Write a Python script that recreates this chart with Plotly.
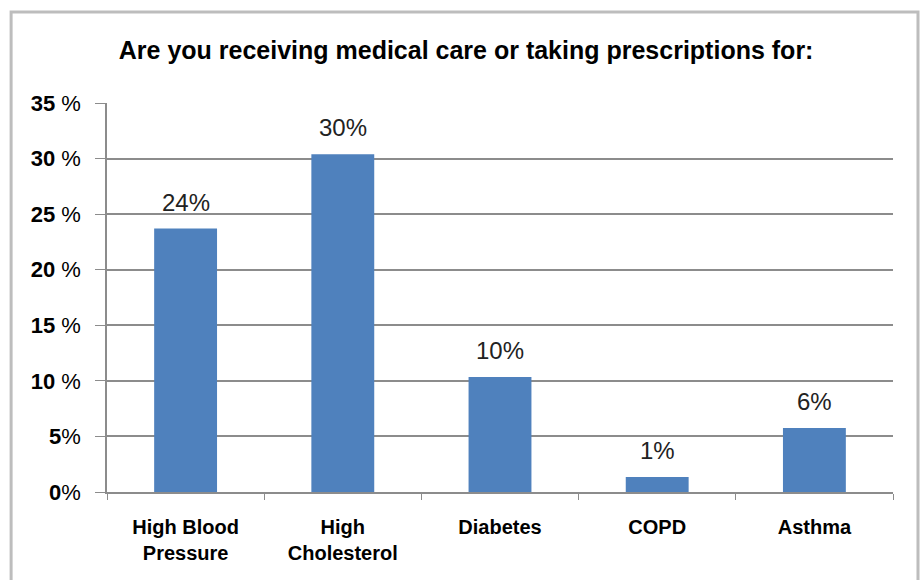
import plotly.graph_objects as go

categories = ["High Blood<br>Pressure", "High<br>Cholesterol", "Diabetes", "COPD", "Asthma"]
values = [0.237, 0.304, 0.1035, 0.0135, 0.0576]
tick_vals = [0, 0.05, 0.10, 0.15, 0.20, 0.25, 0.30, 0.35]
tick_text = ["<b>0</b>%", "<b>5</b>%", "<b>10</b> %", "<b>15</b> %", "<b>20</b> %",
             "<b>25</b> %", "<b>30</b> %", "<b>35</b> %"]
title_text = "Are you receiving medical care or taking prescriptions for:"

fig = go.Figure(go.Bar(
    x=categories, y=values,
    marker=dict(color="#4F81BD", line=dict(width=0)),
    hoverinfo="x+y",
))

annotations = [
    dict(x=c, y=v, xref="x", yref="y", text=f"{round(v*100):.0f}%", showarrow=False,
         yanchor="bottom", yshift=11,
         font=dict(family="Liberation Sans, Arial", size=24, color="#222222"))
    for c, v in zip(categories, values)
]

fig.update_layout(
    width=923, height=580,
    margin=dict(l=107, r=30, t=103, b=88),
    paper_bgcolor="white", plot_bgcolor="white",
    bargap=0.6,
    showlegend=False,
    annotations=annotations,
    title=dict(text="<b>" + title_text + "</b>", x=0.505, xanchor="center", y=0.914, yanchor="middle",
               font=dict(family="Liberation Sans, Arial", size=25, color="black")),
    shapes=[dict(type="rect", xref="paper", yref="paper", x0=-0.122, x1=1.0318, y0=-0.3, y1=1.234,
                 line=dict(color="#BDBDBD", width=3), fillcolor="rgba(0,0,0,0)", layer="below")],
)

fig.update_yaxes(
    range=[0, 0.35], tickvals=tick_vals, ticktext=tick_text,
    showgrid=True, gridcolor="#8C8C8C", gridwidth=1.5,
    showline=True, linecolor="#8C8C8C", linewidth=1.5,
    ticks="outside", ticklen=10, tickcolor="#8C8C8C",
    ticklabelstandoff=10,
    tickfont=dict(family="Liberation Sans, Arial", size=22, color="black"),
    zeroline=False,
)
fig.update_xaxes(
    showline=True, linecolor="#8C8C8C", linewidth=1.5,
    ticks="outside", ticklen=6, tickcolor="#8C8C8C", tickson="boundaries",
    ticklabelstandoff=16,
    tickfont=dict(family="Liberation Sans, Arial", size=20, color="black"),
    tickprefix="<b>", ticksuffix="</b>",
)

fig.write_html("out.html", config={"displayModeBar": False},
               post_script="document.body.style.margin='0';")
